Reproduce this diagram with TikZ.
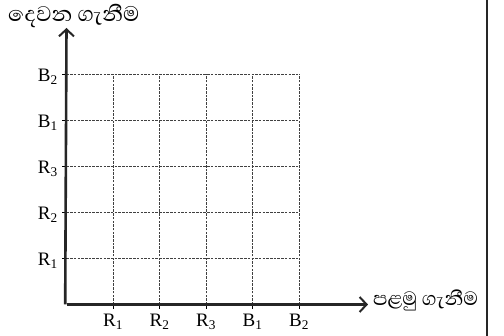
\documentclass[tikz,border=0pt]{standalone}
\usepackage{fontspec}
\setmainfont{Liberation Serif}
\newfontfamily\sinhala[Script=Sinhala]{Abhaya Libre}
\usetikzlibrary{arrows.meta}

\tikzset{
  gridline/.style={line width=1pt, black!75, dash pattern=on 2.5pt off 1.2pt},
  axis/.style={line width=2.6pt, black!85},
  ticklab/.style={font=\fontsize{19}{21}\selectfont, inner sep=1pt},
  axislab/.style={font=\sinhala\fontsize{27}{29}\selectfont, inner sep=0pt}
}

\begin{document}
\begin{tikzpicture}[x=1pt, y=1pt, >={Straight Barb[length=7pt,width=15pt,line width=2pt]}]
  \def\dx{46.5}
  \def\dy{46}
  \useasboundingbox (0,0) rectangle (504,336);
  \coordinate (O) at (66.5,31.5);
  \coordinate (X) at (368,31.5);
  \coordinate (Y) at (66.5,308);
  % dotted grid
  \foreach \i in {1,...,5} {
    \draw[gridline] ({66.5+\i*\dx},31.5) -- ({66.5+\i*\dx},{31.5+5*\dy});
    \draw[gridline] (66.5,{31.5+\i*\dy}) -- ({66.5+5*\dx},{31.5+\i*\dy});
    \draw[line width=0.8pt] ({66.5+\i*\dx},31.5) -- ({66.5+\i*\dx},27);
    \draw[line width=0.8pt] (66.5,{31.5+\i*\dy}) -- (62,{31.5+\i*\dy});
  }
  % tick labels
  \foreach \lab [count=\i] in {R\textsubscript{1},R\textsubscript{2},R\textsubscript{3},B\textsubscript{1},B\textsubscript{2}} {
    \node[ticklab, anchor=north] (xl\i) at ({66.5+\i*\dx},23) {\lab};
    \node[ticklab, anchor=east] (yl\i) at (59,{29.5+\i*\dy}) {\lab};
  }
  % axes
  \draw[axis, ->] (O) -- (X);
  \draw[axis, ->] ([xshift=-1.3pt]O) -- (Y);
  \node[axislab, anchor=west, font=\sinhala\fontsize{24.5}{27}\selectfont] (xname) at (373,36) {පළමු ගැනීම};
  \node[axislab, anchor=west] (yname) at (8,320) {දෙවන ගැනීම};
  % right border
  \draw[line width=2pt, black!85] (487,0) -- (487,336);
\end{tikzpicture}
\end{document}
